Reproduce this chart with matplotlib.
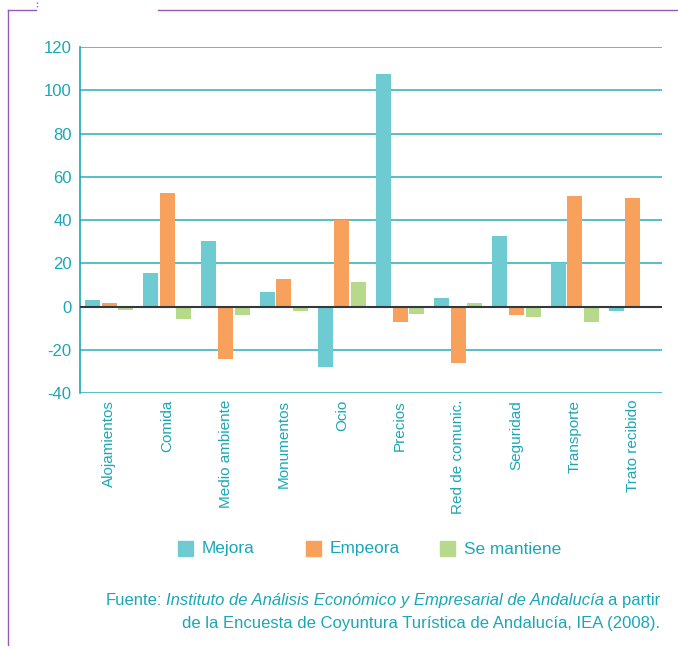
import matplotlib
matplotlib.use("Agg")
import matplotlib.pyplot as plt
import numpy as np
from matplotlib.lines import Line2D
from matplotlib.patches import Rectangle

plt.rcParams['font.family'] = ['Liberation Sans', 'DejaVu Sans']

categories = ["Alojamientos", "Comida", "Medio ambiente", "Monumentos", "Ocio",
              "Precios", "Red de comunic.", "Seguridad", "Transporte", "Trato recibido"]
mejora = [3.2, 15.3, 30.2, 6.9, -28.1, 107.3, 3.7, 32.4, 20.3, -2.3]
empeora = [1.8, 52.7, -24.2, 12.9, 40.2, -7.2, -25.9, -3.7, 51.0, 50.4]
se_mantiene = [-1.5, -5.7, -3.7, -2.3, 11.1, -3.4, 1.8, -4.9, -7.1, -0.6]
series_names = ["Mejora", "Empeora", "Se mantiene"]
yticks = [-40, -20, 0, 20, 40, 60, 80, 100, 120]

teal = "#1AA7B5"
colors = ["#6FCBD2", "#F8A15C", "#B6D98C"]

W, H = 678, 650
fig = plt.figure(figsize=(W/100, H/100), dpi=100)
ax = fig.add_axes([80/W, 1-393/H, (662-80)/W, (393-47)/H])

x = np.arange(len(categories))
bw = 0.26
step = 0.285
for i, (vals, c) in enumerate(zip([mejora, empeora, se_mantiene], colors)):
    ax.bar(x + (i-1)*step, vals, width=bw, color=c, zorder=3, label=series_names[i])

ax.set_xlim(-0.5, len(categories)-0.5)
ax.set_ylim(-40, 120)
ax.set_yticks(yticks)
ax.set_yticklabels([str(v) for v in yticks], color=teal, fontsize=12)
for v in yticks:
    if v != 0:
        ax.axhline(v, color=teal, lw=1.2, zorder=1, alpha=0.85)
ax.axhline(0, color="#333a3d", lw=1.5, zorder=4)
ax.set_xticks(x)
ax.set_xticklabels(categories, rotation=90, color=teal, fontsize=11, va='top', ha='center')
ax.tick_params(axis='y', length=0, pad=12)
ax.tick_params(axis='x', length=0, pad=5)
for lab in ax.get_yticklabels():
    pass
ax.tick_params(axis='y', pad=6)
for s in ['top', 'right', 'bottom']:
    ax.spines[s].set_visible(False)
ax.spines['left'].set_color(teal)
ax.spines['left'].set_linewidth(1.2)

# legend
leg_items = [(178, "Mejora"), (306, "Empeora"), (440, "Se mantiene")]
for (lx, name), c in zip(leg_items, colors):
    fig.patches.append(Rectangle((lx/W, 1-556/H), 15/W, 15/H, transform=fig.transFigure,
                                 color=c, figure=fig))
    fig.text((lx+24)/W, 1-549/H, name, color=teal, fontsize=12.4, va='center', ha='left')

# footer
fs = 12
y1 = 1-605/H
y2 = 1-628/H
t1 = fig.text(660/W, y1, "a partir", color=teal, fontsize=fs, ha='right', va='baseline')
fig.canvas.draw()
r = fig.canvas.get_renderer()
bb = t1.get_window_extent(r)
t2 = fig.text((bb.x0 - 4)/W, y1, "Instituto de Análisis Económico y Empresarial de Andalucía",
              color=teal, fontsize=fs, ha='right', va='baseline', style='italic')
bb2 = t2.get_window_extent(r)
fig.text((bb2.x0 - 4)/W, y1, "Fuente:", color=teal, fontsize=fs, ha='right', va='baseline')
fig.text(660/W, y2, "de la Encuesta de Coyuntura Turística de Andalucía, IEA (2008).",
         color=teal, fontsize=fs, ha='right', va='baseline')

# decorative frame lines
purple = "#9B59B6"
fig.add_artist(Line2D([8/W, 8/W], [1-10/H, 1-645/H], color=purple, lw=1))
fig.add_artist(Line2D([8/W, 36/W], [1-10/H, 1-10/H], color=purple, lw=1))
fig.add_artist(Line2D([158/W, 678/W], [1-10/H, 1-10/H], color=purple, lw=1))
fig.add_artist(Line2D([37/W, 37/W], [1-2/H, 1-8/H], color=purple, lw=1, ls=(0, (1, 1.5))))

fig.savefig("out.png", dpi=100)
